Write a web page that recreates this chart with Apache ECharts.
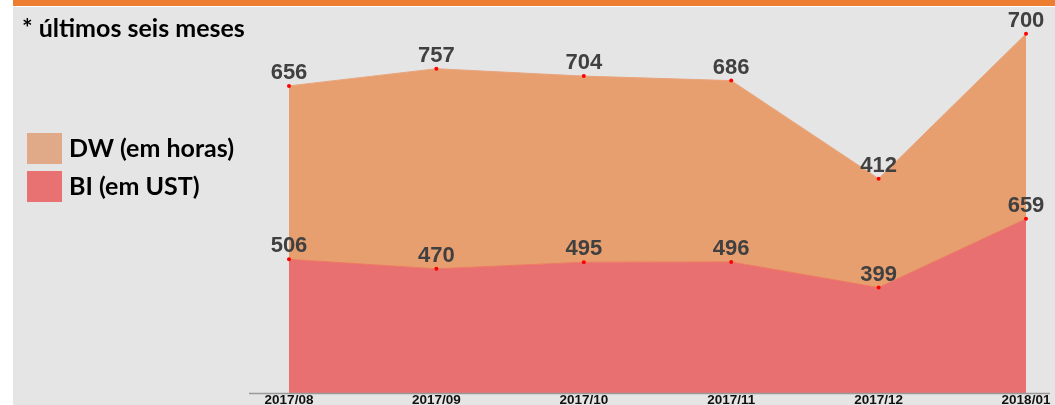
<!DOCTYPE html>
<html><head><meta charset="utf-8">
<script src="https://cdn.jsdelivr.net/npm/echarts@6/dist/echarts.min.js"></script>
<style>html,body{margin:0;padding:0;background:#fff;}#c{width:1055px;height:405px;}</style>
</head><body><div id="c"></div>
<script>
const categories = ['2017/08','2017/09','2017/10','2017/11','2017/12','2018/01'];
const dwValues = [656, 757, 704, 686, 412, 700];
const biValues = [506, 470, 495, 496, 399, 659];
const dwName = 'DW (em horas)';
const biName = 'BI (em UST)';
const titleText = '* últimos seis meses';

const chart = echarts.init(document.getElementById('c'), null, {renderer:'canvas'});
const labelStyle = {show:true, position:'top', distance:0, color:'#404040', fontFamily:'Liberation Sans, Arial', fontWeight:'bold', fontSize:22};
chart.setOption({
  animation:false,
  graphic:[
    {type:'rect', z:-10, silent:true, shape:{x:13,y:0,width:1042,height:6}, style:{fill:'#ED7D31'}},
    {type:'rect', z:-10, silent:true, shape:{x:13,y:7,width:1042,height:398}, style:{fill:'#E5E5E5'}},
    {type:'line', z:5, silent:true, shape:{x1:249,y1:393.5,x2:1050,y2:393.5}, style:{stroke:'#9A9A9A', lineWidth:1.5}},
    {type:'text', left:22, top:16, style:{text:titleText, fill:'#000', font:'bold 25px Lato, sans-serif'}}
  ],
  legend:{
    orient:'vertical', left:27, top:133, padding:0, itemWidth:35, itemHeight:31, itemGap:7, icon:'rect',
    textStyle:{color:'#000', fontWeight:'bold', fontSize:25, fontFamily:'Lato, sans-serif', padding:[2,0,0,2]},
    data:[{name:dwName, itemStyle:{color:'#E0A988'}}, {name:biName, itemStyle:{color:'#E87272'}}]
  },
  grid:{left:289, right:29, top:23, bottom:12, containLabel:false, outerBoundsMode:'none'},
  xAxis:{type:'category', boundaryGap:false, data:categories,
    axisLine:{show:false}, axisTick:{show:false},
    axisLabel:{margin:0, color:'#111', fontWeight:'bold', fontSize:13.5, fontFamily:'Liberation Sans, Arial', interval:0}},
  yAxis:{type:'value', min:0, max:1400, show:false, splitLine:{show:false}},
  series:[
    {name:biName, type:'line', stack:'t', data:biValues, symbol:'circle', symbolSize:4,
      itemStyle:{color:'#FF0000'}, lineStyle:{color:'#EE7A5E', width:1},
      areaStyle:{color:'#E87070', opacity:1}, label:labelStyle, z:3},
    {name:dwName, type:'line', stack:'t', data:dwValues, symbol:'circle', symbolSize:4,
      itemStyle:{color:'#FF0000'}, lineStyle:{color:'#E9A57C', width:1},
      areaStyle:{color:'#E79F70', opacity:1}, label:labelStyle, z:2}
  ]
});
</script></body></html>
